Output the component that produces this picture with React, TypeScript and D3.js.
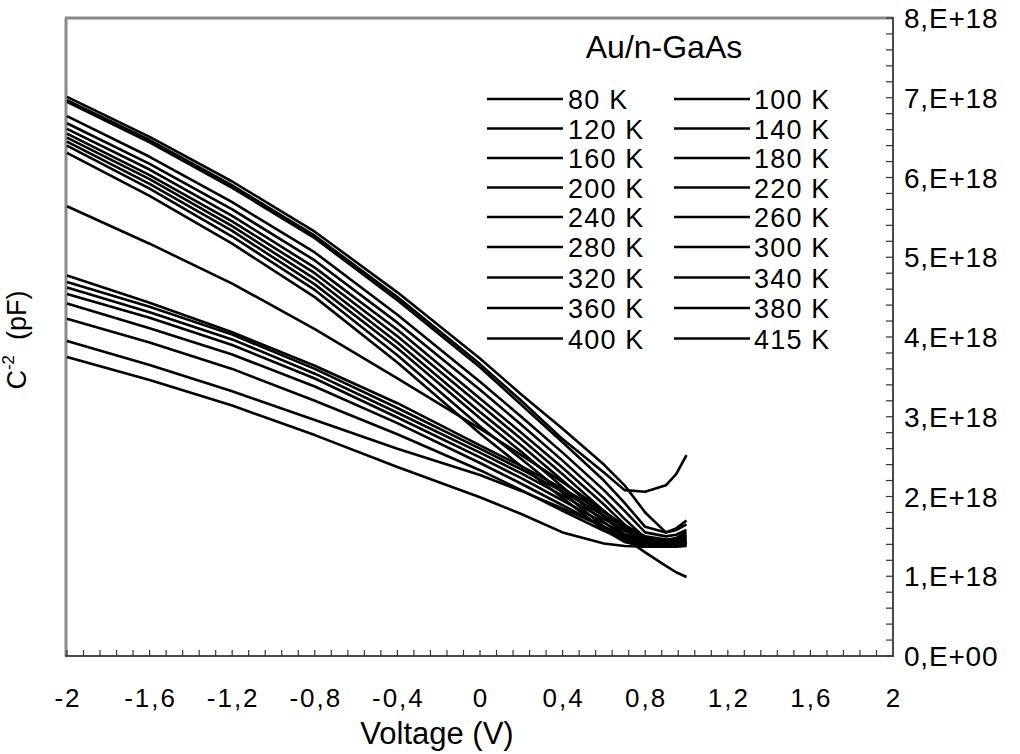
import React from "react";
import * as d3 from "d3";

// Voltage grid (V) shared by all curves
const VOLT = [-2, -1.6, -1.2, -0.8, -0.4, 0, 0.2, 0.4, 0.6, 0.7, 0.8, 0.9, 0.95, 1.0];

// C^-2 values (x 1e18) for each curve
const C01 = [7.01, 6.51, 5.95, 5.32, 4.56, 3.73, 3.28, 2.85, 2.40, 2.14, 1.80, 1.55, 1.58, 1.65];
const C02 = [6.97, 6.47, 5.90, 5.27, 4.50, 3.66, 3.20, 2.72, 2.30, 2.08, 2.06, 2.14, 2.28, 2.52];
const C03 = [6.95, 6.44, 5.87, 5.24, 4.46, 3.62, 3.15, 2.68, 2.20, 1.92, 1.62, 1.55, 1.60, 1.70];
const C04 = [6.77, 6.26, 5.69, 5.06, 4.28, 3.44, 3.00, 2.55, 2.08, 1.82, 1.55, 1.50, 1.52, 1.58];
const C05 = [6.68, 6.17, 5.60, 4.96, 4.18, 3.34, 2.90, 2.45, 1.98, 1.72, 1.48, 1.45, 1.48, 1.55];
const C06 = [6.61, 6.10, 5.52, 4.87, 4.09, 3.23, 2.80, 2.36, 1.90, 1.65, 1.45, 1.44, 1.46, 1.50];
const C07 = [6.55, 6.03, 5.45, 4.80, 4.01, 3.15, 2.72, 2.28, 1.82, 1.58, 1.42, 1.42, 1.44, 1.48];
const C08 = [6.50, 5.98, 5.39, 4.73, 3.93, 3.06, 2.64, 2.20, 1.75, 1.52, 1.40, 1.40, 1.41, 1.45];
const C09 = [6.45, 5.92, 5.33, 4.66, 3.86, 2.98, 2.56, 2.12, 1.68, 1.48, 1.38, 1.38, 1.40, 1.42];
const C10 = [6.40, 5.86, 5.26, 4.59, 3.77, 2.88, 2.47, 2.05, 1.62, 1.45, 1.38, 1.38, 1.39, 1.40];
const C11 = [6.31, 5.77, 5.17, 4.50, 3.68, 2.79, 2.38, 1.98, 1.58, 1.43, 1.37, 1.37, 1.38, 1.40];
const C12 = [5.64, 5.17, 4.67, 4.10, 3.48, 2.85, 2.52, 2.18, 1.82, 1.62, 1.45, 1.40, 1.40, 1.42];
const C13 = [4.77, 4.43, 4.06, 3.64, 3.17, 2.64, 2.38, 2.10, 1.80, 1.64, 1.50, 1.46, 1.47, 1.52];
const C14 = [4.69, 4.38, 4.03, 3.60, 3.11, 2.60, 2.34, 2.06, 1.76, 1.60, 1.47, 1.44, 1.46, 1.50];
const C15 = [4.62, 4.31, 3.97, 3.54, 3.05, 2.55, 2.29, 2.01, 1.72, 1.57, 1.45, 1.42, 1.43, 1.46];
const C16 = [4.54, 4.24, 3.90, 3.48, 2.99, 2.49, 2.23, 1.95, 1.67, 1.53, 1.43, 1.41, 1.42, 1.44];
const C17 = [4.42, 4.11, 3.78, 3.38, 2.92, 2.42, 2.16, 1.89, 1.62, 1.50, 1.42, 1.40, 1.40, 1.42];
const C18 = [4.23, 3.93, 3.60, 3.20, 2.78, 2.33, 2.08, 1.82, 1.57, 1.46, 1.40, 1.39, 1.39, 1.40];
const C19 = [3.95, 3.65, 3.32, 2.96, 2.60, 2.27, 2.07, 1.85, 1.62, 1.48, 1.30, 1.13, 1.05, 0.99];
const C20 = [3.75, 3.46, 3.14, 2.77, 2.37, 1.99, 1.78, 1.55, 1.41, 1.38, 1.37, 1.37, 1.37, 1.38];

const SERIES = [C01, C02, C03, C04, C05, C06, C07, C08, C09, C10, C11, C12, C13, C14, C15, C16, C17, C18, C19, C20];

// Legend rows (left column, right column)
const LEGEND_LEFT = ["80 K", "120 K", "160 K", "200 K", "240 K", "280 K", "320 K", "360 K", "400 K"];
const LEGEND_RIGHT = ["100 K", "140 K", "180 K", "220 K", "260 K", "300 K", "340 K", "380 K", "415 K"];
const LEGEND_TITLE = "Au/n-GaAs";

// Axis ticks
const X_TICKS = [-2, -1.6, -1.2, -0.8, -0.4, 0, 0.4, 0.8, 1.2, 1.6, 2];
const Y_TICKS = [0, 1, 2, 3, 4, 5, 6, 7, 8];

const FONT = "'Liberation Sans', Arial, sans-serif";

export default function App() {
  const left = 67, right = 893, top = 18, bottom = 656;
  const x = d3.scaleLinear().domain([-2, 2]).range([left, right]);
  const y = d3.scaleLinear().domain([0, 8]).range([bottom, top]);
  const line = d3.line<number>().x((_, i) => x(VOLT[i])).y((d) => y(d));

  const xMinor = d3.range(0, 51).map((i) => -2 + i * 0.08);
  const yMinor = d3.range(0, 41).map((i) => i * 0.2);
  const fmtX = (v: number) => String(Math.round(v * 10) / 10).replace(".", ",");
  const fmtY = (v: number) => (v === 0 ? "0,E+00" : `${v},E+18`);

  const rowsY = [99, 128.5, 158, 187.5, 217, 247, 277.5, 308, 338.5];

  return (
    <svg width={1020} height={754} style={{ position: "absolute", left: 0, top: 0, background: "#fff" }} fontFamily={FONT}>
      {/* frame: left & top gray */}
      <line x1={left - 1} y1={top} x2={left - 1} y2={bottom} stroke="#8a8a8a" strokeWidth={3} />
      <line x1={left - 2} y1={top} x2={right} y2={top} stroke="#8a8a8a" strokeWidth={3} />

      {/* curves */}
      <g fill="none" stroke="#000" strokeWidth={2.6} strokeLinejoin="round">
        {SERIES.map((s, i) => (
          <path key={i} d={line(s) || ""} />
        ))}
      </g>

      {/* bottom axis */}
      <line x1={left - 2} y1={bottom} x2={right} y2={bottom} stroke="#4a4a4a" strokeWidth={2} />
      {xMinor.map((v, i) => (
        <line key={i} x1={x(v)} x2={x(v)} y1={bottom} y2={bottom - 6} stroke="#333" strokeWidth={1.2} />
      ))}
      {X_TICKS.map((v) => (
        <text key={v} x={x(v) + 1} y={707} fontSize={26} letterSpacing={2} textAnchor="middle" fill="#000">
          {fmtX(v)}
        </text>
      ))}
      <text x={437} y={744} fontSize={31} textAnchor="middle" fill="#000">Voltage (V)</text>

      {/* right axis */}
      <line x1={right} y1={top - 1} x2={right} y2={bottom + 1} stroke="#4a4a4a" strokeWidth={2} />
      {yMinor.map((v, i) => (
        <line key={i} x1={right - 7} x2={right} y1={y(v)} y2={y(v)} stroke="#333" strokeWidth={1.2} />
      ))}
      {Y_TICKS.map((v) => (
        <text key={v} x={904} y={y(v) + 10} fontSize={28} letterSpacing={0.8} textAnchor="start" fill="#000">
          {fmtY(v)}
        </text>
      ))}

      {/* y label */}
      <text transform="translate(26,340) rotate(-90)" fontSize={27} textAnchor="middle" fill="#000">
        C<tspan fontSize={17} dy={-12}>-2</tspan>
        <tspan dy={12}>{"\u00a0\u00a0(pF)"}</tspan>
      </text>

      {/* legend */}
      <text x={664} y={58} fontSize={32} textAnchor="middle" fill="#000">{LEGEND_TITLE}</text>
      {LEGEND_LEFT.map((t, i) => (
        <g key={"l" + i}>
          <line x1={487} x2={563} y1={rowsY[i]} y2={rowsY[i]} stroke="#000" strokeWidth={2.6} />
          <text x={568} y={rowsY[i] + 10} fontSize={27} letterSpacing={1.2} fill="#000">{t}</text>
        </g>
      ))}
      {LEGEND_RIGHT.map((t, i) => (
        <g key={"r" + i}>
          <line x1={674} x2={750} y1={rowsY[i]} y2={rowsY[i]} stroke="#000" strokeWidth={2.6} />
          <text x={754} y={rowsY[i] + 10} fontSize={27} letterSpacing={1.2} fill="#000">{t}</text>
        </g>
      ))}
    </svg>
  );
}
